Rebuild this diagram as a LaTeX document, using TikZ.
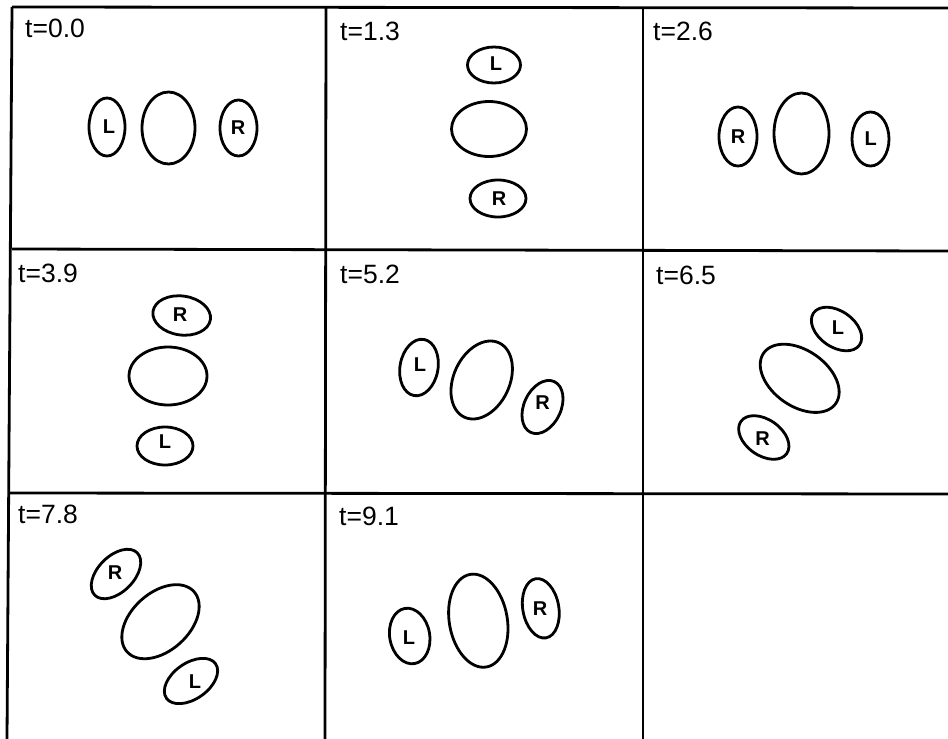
\documentclass[tikz,border=0pt]{standalone}
\usepackage{fontspec}
\setmainfont{Liberation Sans}
\begin{document}
\begin{tikzpicture}[x=1pt,y=-1pt,
  gridline/.style={line width=2.8pt},
  body/.style={line width=2.8pt},
  sat/.style={line width=2.8pt},
  tlab/.style={anchor=base west,inner sep=0pt,font=\fontsize{26.5}{30}\selectfont},
  let/.style={inner sep=0pt,font=\bfseries\fontsize{20}{22}\selectfont}]
\useasboundingbox (0,0) rectangle (948,739);
% grid
\draw[gridline] (12,7) -- (948,8);
\draw[gridline] (12,249) -- (948,251);
\draw[gridline] (9,493) -- (948,494);
\draw[gridline] (12,7) -- (7,739);
\draw[gridline] (326,7) -- (325,739);
\draw[gridline] (643,8) -- (643,739);
% labels
\node[tlab] (t1) at (25,37.5) {t=0.0};
\node[tlab] (t2) at (340,40.5) {t=1.3};
\node[tlab] (t3) at (653,40) {t=2.6};
\node[tlab] (t4) at (18,282) {t=3.9};
\node[tlab] (t5) at (340,283) {t=5.2};
\node[tlab] (t6) at (656,284) {t=6.5};
\node[tlab] (t7) at (18,523) {t=7.8};
\node[tlab] (t8) at (339,525) {t=9.1};
% cell 1
\draw[sat] (107,127) ellipse[x radius=18pt,y radius=29pt];
\draw[body] (168.5,128) ellipse[x radius=26.5pt,y radius=36pt];
\draw[sat] (238.5,128) ellipse[x radius=18.5pt,y radius=28pt];
\node[let] (l1) at (109,127) {L};
\node[let] (r1) at (238,128) {R};
% cell 2
\draw[sat] (494,65) ellipse[x radius=26.5pt,y radius=18pt];
\draw[body] (489,129) ellipse[x radius=37.5pt,y radius=27.5pt];
\draw[sat] (498,198.5) ellipse[x radius=28pt,y radius=18.5pt];
\node[let] (l2) at (496,64) {L};
\node[let] (r2) at (499,199) {R};
% cell 3
\draw[sat] (738,136.5) ellipse[x radius=19pt,y radius=29.5pt];
\draw[body] (801.5,133.5) ellipse[x radius=27.5pt,y radius=40.5pt];
\draw[sat] (870.5,139) ellipse[x radius=18.5pt,y radius=27pt];
\node[let] (r3) at (738,137) {R};
\node[let] (l3) at (870.7,139) {L};
% cell 4
\draw[sat,rotate around={-8:(181.7,315.5)}] (181.7,315.5) ellipse[x radius=29pt,y radius=19.5pt];
\draw[body] (168,376) ellipse[x radius=39pt,y radius=29pt];
\draw[sat] (165,446) ellipse[x radius=28pt,y radius=19pt];
\node[let] (r4) at (180,315) {R};
\node[let] (l4) at (165,442) {L};
% cell 5
\draw[sat,rotate around={80:(419,367.5)}] (419,367.5) ellipse[x radius=28.5pt,y radius=19pt];
\draw[body,rotate around={65:(481.7,380)}] (481.7,380) ellipse[x radius=41pt,y radius=28pt];
\draw[sat,rotate around={65:(542.5,407)}] (542.5,407) ellipse[x radius=28pt,y radius=18.5pt];
\node[let] (l5) at (420,365) {L};
\node[let] (r5) at (542.7,403) {R};
% cell 6
\draw[sat,rotate around={-35:(836.5,329)}] (836.5,329) ellipse[x radius=28pt,y radius=18pt];
\draw[body,rotate around={-35:(799.7,378.3)}] (799.7,378.3) ellipse[x radius=44pt,y radius=28pt];
\draw[sat,rotate around={-35:(763.8,437.5)}] (763.8,437.5) ellipse[x radius=28pt,y radius=18pt];
\node[let] (l6) at (838,328) {L};
\node[let] (r6) at (762.7,439) {R};
% cell 7
\draw[sat,rotate around={45:(116,574)}] (116,574) ellipse[x radius=30pt,y radius=18pt];
\draw[body,rotate around={42:(160.5,621.7)}] (160.5,621.7) ellipse[x radius=45pt,y radius=29pt];
\draw[sat,rotate around={35:(191,681)}] (191,681) ellipse[x radius=30pt,y radius=18pt];
\node[let] (r7) at (115,573) {R};
\node[let] (l7) at (195,681.7) {L};
% cell 8
\draw[sat,rotate around={100:(409.7,636)}] (409.7,636) ellipse[x radius=28pt,y radius=20pt];
\draw[body,rotate around={100:(478.3,620.7)}] (478.3,620.7) ellipse[x radius=47pt,y radius=29pt];
\draw[sat,rotate around={100:(540.8,608.3)}] (540.8,608.3) ellipse[x radius=30pt,y radius=18pt];
\node[let] (l8) at (409,638) {L};
\node[let] (r8) at (540,609) {R};
\end{tikzpicture}
\end{document}
